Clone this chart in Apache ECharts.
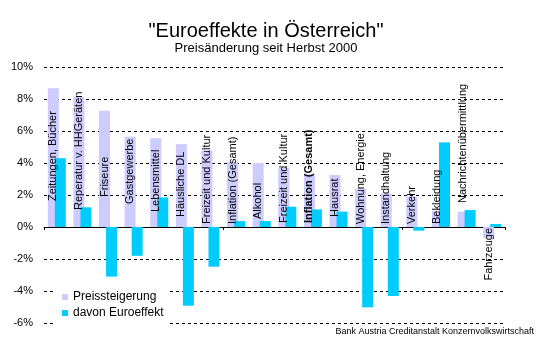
<!DOCTYPE html>
<html><head><meta charset="utf-8">
<script src="https://cdn.jsdelivr.net/npm/echarts@6/dist/echarts.min.js"></script>
<style>html,body{margin:0;padding:0;background:#fff}#c{width:550px;height:342px}</style>
</head><body><div id="c"></div><script>
const categories = ['Zeitungen, Bücher','Reperatur v. HHGeräten','Friseure','Gastgewerbe','Lebensmittel','Häusliche DL','Freizeit und Kultur','Inflation (Gesamt)','Alkohol','Freizeit und Kultur','Inflation (Gesamt)','Hausrat','Wohnung, Energie','Instandhaltung','Verkehr','Bekleidung','Nachrichtenübermittlung','Fahrzeuge'];
const preissteigerung = [8.67, 8.12, 7.27, 5.64, 5.54, 5.18, 4.8, 4.08, 4.0, 3.7, 3.3, 3.25, 2.4, 2.1, 1.9, 1.0, 0.96, -0.7];
const euroeffekt = [4.3, 1.23, -3.1, -1.8, 1.85, -4.92, -2.48, 0.37, 0.37, 1.27, 1.1, 0.96, -5.02, -4.31, -0.23, 5.29, 1.06, 0.19];
const seriesNames = ['Preissteigerung', 'davon Euroeffekt'];
const yMin = -6, yMax = 10, yStep = 2;
const titleText = '"Euroeffekte in Österreich"';
const subtitleText = 'Preisänderung seit Herbst 2000';
const sourceText = 'Bank Austria Creditanstalt Konzernvolkswirtschaft';

// label styling (offsets of the rotated category labels from the zero line, px)
const labelLift = [26,17,30,23,15,10,3,3,8,4,4,10,3,3,3,3,24,1];
const boldIndex = 10;
const FONT = 'Liberation Sans';

const chart = echarts.init(document.getElementById('c'), null, {renderer: 'canvas'});
const purpleData = preissteigerung.map((v, i) => ({
  value: v,
  label: {
    position: v < 0 ? 'insideTop' : 'insideBottom',
    align: v < 0 ? 'right' : 'left',
    distance: labelLift[i],
    fontWeight: i === boldIndex ? 'bold' : 'normal'
  }
}));
chart.setOption({
  animation: false,
  backgroundColor: '#fff',
  title: [
    {text: titleText, left: 261, top: 16, textAlign: 'center',
     textStyle: {fontFamily: FONT, fontSize: 20, fontWeight: 'normal', color: '#000'}},
    {text: subtitleText, left: 261, top: 37, textAlign: 'center',
     textStyle: {fontFamily: FONT, fontSize: 13, fontWeight: 'normal', color: '#000'}}
  ],
  legend: {
    data: seriesNames, orient: 'vertical', left: 53, top: 286,
    icon: 'rect', itemWidth: 6, itemHeight: 6, itemGap: 4,
    padding: [5, 6, 5, 9], backgroundColor: '#fff',
    textStyle: {fontFamily: FONT, fontSize: 12, color: '#000'}
  },
  grid: {left: 44, right: 45, top: 67, bottom: 19, containLabel: false},
  xAxis: {
    type: 'category', data: categories,
    axisLine: {lineStyle: {color: '#000', width: 1}},
    axisTick: {show: true, length: 3, lineStyle: {color: '#000'}},
    axisLabel: {show: false},
    splitLine: {show: false}
  },
  yAxis: {
    type: 'value', min: yMin, max: yMax, interval: yStep,
    axisLine: {show: false}, axisTick: {show: false},
    axisLabel: {formatter: '{value}%', fontFamily: FONT, fontSize: 11, color: '#000', margin: 11},
    splitLine: {lineStyle: {color: '#000', width: 1, type: [3, 3]}}
  },
  series: [
    {name: seriesNames[0], type: 'bar', data: purpleData, barWidth: 11, barGap: '-36%',
     itemStyle: {color: '#CCCCFF'},
     label: {show: true, rotate: 90, verticalAlign: 'middle', fontFamily: FONT, fontSize: 11, color: '#000',
             formatter: p => categories[p.dataIndex]}},
    {name: seriesNames[1], type: 'bar', data: euroeffekt, barWidth: 11, barGap: '-36%',
     itemStyle: {color: '#00CCFF'}}
  ],
  graphic: [
    {type: 'text', right: 16, top: 327,
     style: {text: sourceText, font: '9px "Liberation Sans"', fill: '#000'}}
  ]
});
</script></body></html>
